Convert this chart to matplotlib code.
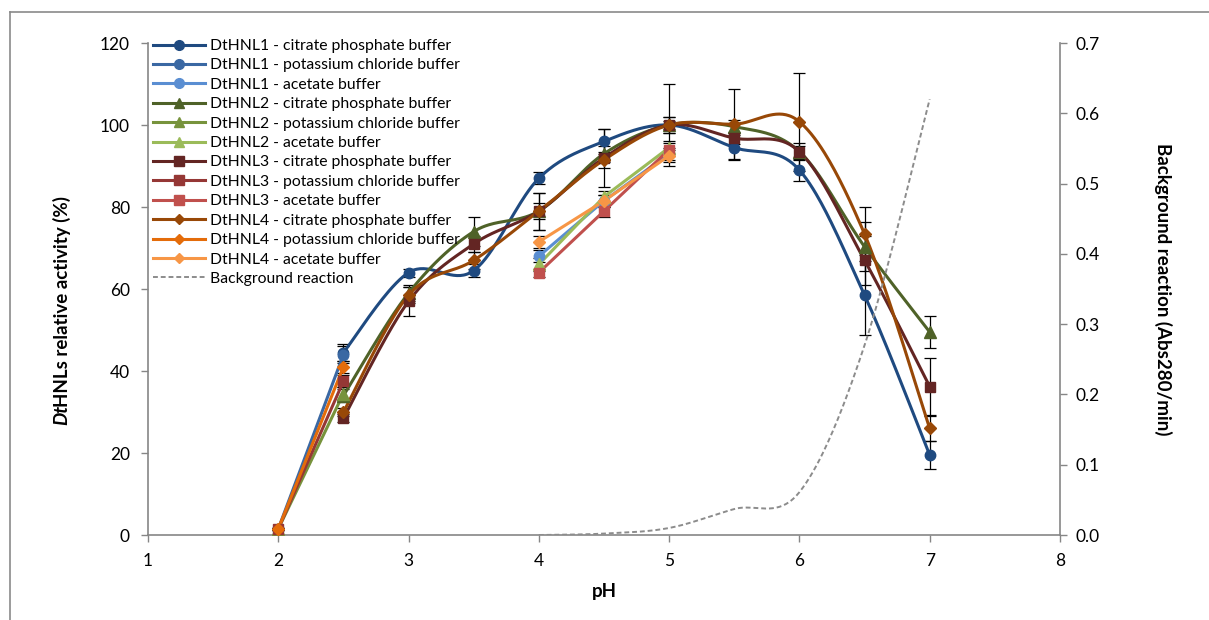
import numpy as np
import matplotlib
matplotlib.use("Agg")
import matplotlib.pyplot as plt
from matplotlib.lines import Line2D

plt.rcParams['font.family'] = ['Lato', 'DejaVu Sans']

# ---- data ----
ph_kcl = [2, 2.5]
ph_cp = [2.5, 3, 3.5, 4, 4.5, 5, 5.5, 6, 6.5, 7]
ph_ac = [4, 4.5, 5]
ph_bg = [4, 4.5, 5, 5.5, 6, 6.5, 7]

hnl1_cp = [44.5, 64, 64.5, 87, 96, 100, 94.5, 89, 58.5, 19.5]
hnl1_kcl = [1.5, 44]
hnl1_ac = [68, 81.5, 93]
hnl2_cp = [34, 59, 74, 79, 93, 100, 99.6, 93.5, 70.3, 49.5]
hnl2_kcl = [1.5, 34.5]
hnl2_ac = [66, 82.5, 94.5]
hnl3_cp = [28.5, 57, 71, 79, 92, 100, 96.8, 93.5, 67, 36.2]
hnl3_kcl = [1.5, 37.5]
hnl3_ac = [64, 79, 94]
hnl4_cp = [30, 58.5, 67, 79, 91.5, 100, 100.2, 100.8, 73.4, 26]
hnl4_kcl = [1.5, 41]
hnl4_ac = [71.5, 81.5, 92.5]

hnl1_cp_err = [2, 1, 1.5, 1.5, 3, 1, 3, 2.7, 9.7, 3.5]
hnl1_kcl_err = [0.3, 2]
hnl1_ac_err = [1.5, 1.5, 1.5]
hnl2_cp_err = [1.5, 2, 3.5, 2, 2, 2, 1.5, 1.5, 6, 4]
hnl2_kcl_err = [0.3, 1.5]
hnl2_ac_err = [1.5, 1.5, 1.5]
hnl3_cp_err = [1, 3.5, 2, 4.5, 7, 10, 1.5, 2, 6, 7]
hnl3_kcl_err = [0.3, 1.5]
hnl3_ac_err = [1, 1.5, 1.5]
hnl4_cp_err = [1, 2, 2, 4.5, 2, 2, 8.5, 12, 6.6, 3]
hnl4_kcl_err = [0.3, 1.5]
hnl4_ac_err = [1.5, 1.5, 1.5]

bg_rate = [0.0, 0.002, 0.01, 0.037, 0.061, 0.27, 0.62]

labels = [
    "DtHNL1 - citrate phosphate buffer", "DtHNL1 - potassium chloride buffer", "DtHNL1 - acetate buffer",
    "DtHNL2 - citrate phosphate buffer", "DtHNL2 - potassium chloride buffer", "DtHNL2 - acetate buffer",
    "DtHNL3 - citrate phosphate buffer", "DtHNL3 - potassium chloride buffer", "DtHNL3 - acetate buffer",
    "DtHNL4 - citrate phosphate buffer", "DtHNL4 - potassium chloride buffer", "DtHNL4 - acetate buffer",
]
colors = ['#1F4A80', '#3A68A3', '#5A8ED2',
          '#4F6228', '#77933C', '#9BBB59',
          '#632523', '#953735', '#C0504D',
          '#984807', '#E46C0A', '#F79646']
markers = ['o'] * 3 + ['^'] * 3 + ['s'] * 3 + ['D'] * 3
msizes = [7.5] * 3 + [8] * 3 + [7.5] * 3 + [6] * 3


def smooth(x, y, n=40):
    # Excel-like smoothed line (Catmull-Rom bezier through the points)
    x = np.asarray(x, float)
    y = np.asarray(y, float)
    P = np.column_stack([x, y])
    P = np.vstack([P[0], P, P[-1]])
    out = []
    t = np.linspace(0, 1, n)[:, None]
    for i in range(1, len(P) - 2):
        p0, p1, p2, p3 = P[i - 1], P[i], P[i + 1], P[i + 2]
        c1 = p1 + (p2 - p0) / 6
        c2 = p2 - (p3 - p1) / 6
        seg = (1 - t) ** 3 * p1 + 3 * (1 - t) ** 2 * t * c1 + 3 * (1 - t) * t ** 2 * c2 + t ** 3 * p2
        out.append(seg)
    s = np.vstack(out)
    return s[:, 0], s[:, 1]


fig = plt.figure(figsize=(12.09, 6.2), dpi=100)
ax = fig.add_axes([148 / 1209, 1 - 535 / 620, 912 / 1209, 492 / 620])
ax2 = ax.twinx()

groups = [
    (hnl1_cp, hnl1_cp_err, hnl1_kcl, hnl1_kcl_err, hnl1_ac, hnl1_ac_err),
    (hnl2_cp, hnl2_cp_err, hnl2_kcl, hnl2_kcl_err, hnl2_ac, hnl2_ac_err),
    (hnl3_cp, hnl3_cp_err, hnl3_kcl, hnl3_kcl_err, hnl3_ac, hnl3_ac_err),
    (hnl4_cp, hnl4_cp_err, hnl4_kcl, hnl4_kcl_err, hnl4_ac, hnl4_ac_err),
]

handles = []
for g, (cp, cp_e, kcl, kcl_e, ac, ac_e) in enumerate(groups):
    sets = [(ph_cp, cp, cp_e, True), (ph_kcl, kcl, kcl_e, False), (ph_ac, ac, ac_e, False)]
    for j, (xs, ys, es, sm) in enumerate(sets):
        k = g * 3 + j
        col = colors[k]
        ax.errorbar(xs, ys, yerr=es, fmt='none', ecolor='black', elinewidth=0.9,
                    capsize=4, capthick=0.9, zorder=2)
        if sm:
            sx, sy = smooth(xs, ys)
            ax.plot(sx, sy, color=col, lw=2.2, zorder=3)
        else:
            ax.plot(xs, ys, color=col, lw=2.2, zorder=3)
        ax.plot(xs, ys, ls='none', marker=markers[k], ms=msizes[k], color=col,
                mec=col, zorder=4)
        handles.append(Line2D([], [], color=col, lw=2.2, marker=markers[k],
                              ms=msizes[k] - 0.5, mec=col))

bx, by = smooth(ph_bg, bg_rate)
ax2.plot(bx, by, color='#8C8C8C', lw=1.4, ls=(0, (2.5, 1.5)), zorder=1)
handles.append(Line2D([], [], color='#8C8C8C', lw=1.4, ls=(0, (2.5, 1.5))))
labels_all = labels + ["Background reaction"]

ax.set_xlim(1, 8)
ax.set_ylim(0, 120)
ax2.set_ylim(0, 0.7)
ax.set_xticks(range(1, 9))
ax.set_yticks(range(0, 121, 20))
ax2.set_yticks(np.arange(0, 0.71, 0.1))
ax2.set_yticklabels([f"{v:.1f}" for v in np.arange(0, 0.71, 0.1)])

axis_col = '#868686'
for a in (ax, ax2):
    for s in a.spines.values():
        s.set_visible(False)
    a.tick_params(colors=axis_col, labelcolor='black', labelsize=12.5, length=5, width=1)
ax.spines['left'].set_visible(True)
ax.spines['bottom'].set_visible(True)
ax2.spines['right'].set_visible(True)
for s in (ax.spines['left'], ax.spines['bottom'], ax2.spines['right']):
    s.set_color(axis_col)
    s.set_linewidth(1.2)
ax.tick_params(axis='x', pad=8)
ax.tick_params(axis='y', pad=8)
ax2.tick_params(axis='y', pad=6)

ax.set_xlabel("pH", fontsize=13.5, fontweight='bold', labelpad=10)
ax2.set_ylabel("Background reaction (Abs280/min)", fontsize=13.5, fontweight='bold',
               rotation=270, labelpad=52)

# left label with italic "Dt"
fig.canvas.draw()
r = fig.canvas.get_renderer()
t1 = fig.text(62 / 1209, 1 - 425 / 620, "Dt", rotation=90, fontsize=13.5, fontweight='bold',
              fontstyle='italic', ha='center', va='bottom')
bb = t1.get_window_extent(r)
t2 = fig.text(62 / 1209, (bb.y1 - 2) / fig.bbox.height, "HNLs relative activity (%)", rotation=90,
              fontsize=13.5, fontweight='bold', ha='center', va='bottom')

ax.legend(handles, labels_all, loc='upper left', bbox_to_anchor=(153 / 1209, 1 - 39 / 620),
          bbox_transform=fig.transFigure, frameon=False, fontsize=11.3, handlelength=3.3,
          labelspacing=0.345, handletextpad=0.3, borderpad=0, borderaxespad=0)

# outer chart frame
fig.add_artist(Line2D([10 / 1209, 10 / 1209], [0, 1 - 12 / 620], color='#8A8A8A', lw=1.2,
                      transform=fig.transFigure))
fig.add_artist(Line2D([10 / 1209, 1], [1 - 12 / 620, 1 - 12 / 620], color='#8A8A8A', lw=1.2,
                      transform=fig.transFigure))

fig.savefig("out.png", dpi=100)
